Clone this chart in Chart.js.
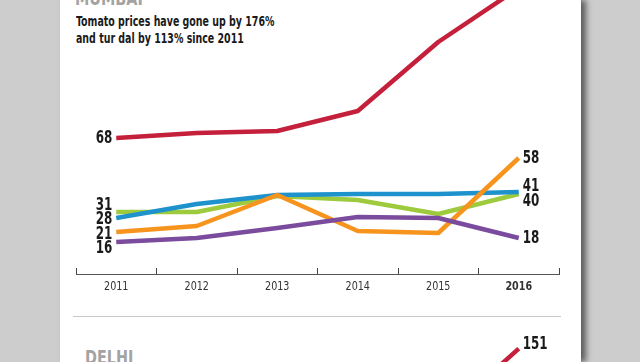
<!DOCTYPE html>
<html>
<head>
<meta charset="utf-8">
<script src="https://cdn.jsdelivr.net/npm/chart.js@4.4.1/dist/chart.umd.min.js"></script>
<style>
  html, body { margin: 0; padding: 0; width: 640px; height: 362px; overflow: hidden; background: #cdcdcd; }
  body { position: relative; font-family: 'Liberation Sans Narrow', 'DejaVu Sans Condensed', sans-serif; }
  #panel { position: absolute; left: 60px; top: 0; width: 521px; height: 362px; background: #fff;
           box-shadow: 5px 0 6px rgba(0,0,0,0.55); }
  #mumbaiWrap { position: absolute; left: 0; top: 0; width: 640px; height: 300px; }
  #delhiWrap { position: absolute; left: 0; top: 330px; width: 640px; height: 330px; }
  .city { position: absolute; font-weight: bold; font-size: 20px; line-height: 1; color: #a3a3a3;
          transform: scaleX(0.8); transform-origin: 0 0; white-space: nowrap; }
  #title { position: absolute; left: 76px; top: 13px; font-weight: bold; font-size: 14px; line-height: 17px; color: #1a1a1a;
           transform: scaleX(0.75); transform-origin: 0 0; white-space: nowrap; }
  #sep { position: absolute; left: 73px; top: 316px; width: 488px; height: 1px; background: #c9c9c9; }
</style>
</head>
<body>
<div id="panel"></div>
<div class="city" style="left:75px; top:-12px;">MUMBAI</div>
<div id="title">Tomato prices have gone up by 176%<br>and tur dal by 113% since 2011</div>
<div id="mumbaiWrap"><canvas id="mumbai"></canvas></div>
<div id="sep"></div>
<div class="city" style="left:85px; top:347px;">DELHI</div>
<div id="delhiWrap"><canvas id="delhi"></canvas></div>
<script>
// ---- data ----
const years = ['2011', '2012', '2013', '2014', '2015', '2016'];

const mumbaiTomato = [68, 70.5, 71.5, 81.5, 116, 143];
const mumbaiBlue   = [28, 35, 39.5, 40, 40, 41];
const mumbaiGreen  = [31, 31, 39, 37, 30, 40];
const mumbaiOrange = [21, 24, 39.5, 21.5, 20.5, 58];
const mumbaiPurple = [16, 18, 23, 28.5, 28, 18];

// end labels (first / last value) ; null = no label shown
const tomatoLabels = ['68', null];
const blueLabels   = ['28', '41'];
const greenLabels  = ['31', '40'];
const orangeLabels = ['21', '58'];
const purpleLabels = ['16', '18'];

const delhiTomato = [null, null, null, null, 116, 151];
const delhiTomatoLabels = [null, '151'];

const colors = { red: '#c41f3b', blue: '#1d92cc', green: '#9dcb3d', orange: '#f7941e', purple: '#7b4b9d' };
const FONT = "'Liberation Sans Narrow', 'DejaVu Sans Condensed', sans-serif";
const SQUEEZE = 0.78;

// ---- end-label plugin (positions derived from the plotted points) ----
const endLabels = {
  id: 'endLabels',
  afterDatasetsDraw(chart, args, opts) {
    const ctx = chart.ctx;
    const sides = [[], []];
    chart.data.datasets.forEach((ds, i) => {
      const meta = chart.getDatasetMeta(i);
      const pts = meta.data.filter((p, k) => ds.data[k] !== null && ds.data[k] !== undefined);
      if (!pts.length) return;
      const first = pts[0], last = pts[pts.length - 1];
      if (ds.endLabels[0]) sides[0].push({ text: ds.endLabels[0], x: first.x, y: first.y });
      if (ds.endLabels[1]) sides[1].push({ text: ds.endLabels[1], x: last.x, y: last.y + (opts.lastDy || 0) });
    });
    const gap = opts.gap || 14.5;
    sides.forEach(list => {
      list.sort((a, b) => a.y - b.y);
      for (let it = 0; it < 300; it++) {
        for (let k = 0; k < list.length - 1; k++) {
          const d = list[k + 1].y - list[k].y;
          if (d < gap) { const m = (gap - d) / 2; list[k].y -= m; list[k + 1].y += m; }
        }
      }
    });
    ctx.save();
    ctx.font = 'bold 17px ' + FONT;
    ctx.fillStyle = '#1a1a1a';
    ctx.textBaseline = 'middle';
    const put = (l, x, align) => {
      ctx.save(); ctx.translate(x, l.y + 1); ctx.scale(SQUEEZE, 1);
      ctx.textAlign = align; ctx.fillText(l.text, 0, 0); ctx.restore();
    };
    sides[0].forEach(l => put(l, l.x - 4, 'right'));
    sides[1].forEach(l => put(l, l.x + (opts.lastDx || 4), 'left'));
    ctx.restore();
  }
};

// ---- condensed tick labels drawn at the x-scale's own tick positions ----
const condensedTicks = {
  id: 'condensedTicks',
  afterDraw(chart) {
    const s = chart.scales.x;
    if (!s || !s.options.display) return;
    const ctx = chart.ctx;
    ctx.save();
    ctx.fillStyle = '#333';
    ctx.textAlign = 'center';
    ctx.textBaseline = 'middle';
    s.ticks.forEach((t, i) => {
      const x = s.getPixelForTick(i);
      const bold = i === s.ticks.length - 1;
      ctx.font = (bold ? 'bold ' : '') + '13px ' + FONT;
      ctx.save(); ctx.translate(x, s.top + 13); ctx.scale(0.82, 1);
      ctx.fillText(s.getLabelForValue(t.value), 0, 0); ctx.restore();
    });
    ctx.restore();
  }
};

function ds(data, color, labels) {
  return { data, borderColor: color, backgroundColor: color, borderWidth: 4.5, pointRadius: 0,
           tension: 0, fill: false, borderJoinStyle: 'round', endLabels: labels };
}

new Chart(document.getElementById('mumbai'), {
  type: 'line',
  data: {
    labels: years,
    datasets: [
      ds(mumbaiTomato, colors.red, tomatoLabels),
      ds(mumbaiPurple, colors.purple, purpleLabels),
      ds(mumbaiOrange, colors.orange, orangeLabels),
      ds(mumbaiBlue, colors.blue, blueLabels),
      ds(mumbaiGreen, colors.green, greenLabels)
    ]
  },
  options: {
    responsive: true, maintainAspectRatio: false, animation: false,
    layout: { padding: { left: 76, right: 81, top: 0, bottom: 0 } },
    plugins: { legend: { display: false }, tooltip: { enabled: false }, endLabels: { gap: 14.5 } },
    scales: {
      x: {
        offset: true,
        grid: { offset: true, drawOnChartArea: false, drawTicks: true, tickLength: -6, color: '#444', lineWidth: 1 },
        border: { display: true, color: '#555', width: 1, dash: [4, 2] },
        ticks: { padding: 11.5, color: 'rgba(0,0,0,0)', font: { family: FONT, size: 13 } },
        afterFit: (s) => { s.height = 26; }
      },
      y: { display: false, min: 0, max: 137 }
    }
  },
  plugins: [endLabels, condensedTicks]
});

new Chart(document.getElementById('delhi'), {
  type: 'line',
  data: { labels: years, datasets: [ ds(delhiTomato, colors.red, delhiTomatoLabels) ] },
  options: {
    responsive: true, maintainAspectRatio: false, animation: false,
    layout: { padding: { left: 76, right: 81, top: 0, bottom: 0 } },
    plugins: { legend: { display: false }, tooltip: { enabled: false }, endLabels: { lastDy: -5, lastDx: 4 } },
    scales: {
      x: { display: false, offset: true },
      y: { display: false, min: 0, max: 160 }
    }
  },
  plugins: [endLabels]
});
</script>
</body>
</html>
